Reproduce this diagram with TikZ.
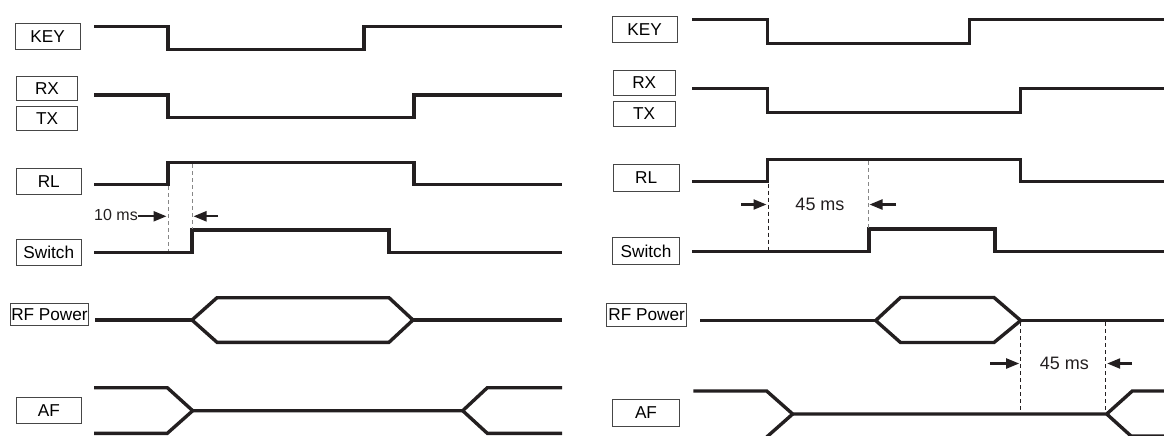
\documentclass[tikz,border=0pt]{standalone}
\usepackage{fontspec}
\setmainfont{Liberation Sans}
\usetikzlibrary{arrows.meta,positioning}
\definecolor{traceblack}{RGB}{35,31,32}
\definecolor{boxgray}{RGB}{70,70,70}
\definecolor{guidegray}{RGB}{135,135,135}
\tikzset{
 sigbox/.style={draw=boxgray,line width=0.5pt,inner sep=0pt,minimum width=32.3pt,minimum height=12.9pt,font=\fontsize{8.6}{9}\selectfont},
 smallbox/.style={sigbox,minimum width=30.4pt,minimum height=11.8pt},
 rfbox/.style={sigbox,minimum width=39pt,minimum height=11pt},
 wave/.style={traceblack,line width=1.7pt,line join=miter},
 guide/.style={line width=0.4pt,dash pattern=on 2pt off 1.5pt},
 dimarrow/.style={traceblack,line width=1.1pt,-{Triangle[length=6.5pt,width=5pt]}},
 dimtext/.style={inner sep=0pt,text=traceblack}
}

\begin{document}
\begin{tikzpicture}[x=0.5pt,y=-0.5pt,line cap=butt]
 \useasboundingbox (0,0) rectangle (1164,435);
 % Left panel labels.
 \node[sigbox] (keyL) at (47.7,36.3) {KEY};
 \node[smallbox] (rxL) at (47,88.3) {RX};
 \node[smallbox] (txL) at (47,118.3) {TX};
 \node[sigbox] (rlL) at (48.8,181.2) {RL};
 \node[sigbox] (swL) at (48.8,252.2) {Switch};
 \node[rfbox] (rfL) at (49.5,314.2) {RF Power};
 \node[sigbox] (afL) at (48.8,410.5) {AF};
 % Left panel traces.
 \draw[wave] (94,26.7) -| (168,49.7) -| (364,26.7) -- (562,26.7);
 \draw[wave] (94,95) -| (168,117.3) -| (414,95) -- (562,95);
 \draw[wave] (94,184.3) -| (168,162.3) -| (414,184.3) -- (562,184.3);
 \draw[wave] (94,252.7) -| (192,230) -| (389,252.7) -- (562,252.7);
 \draw[wave] (95,320) -- (192,320) (413,320) -- (562,320);
 \draw[wave] (192,320) -- (217,297.7) -- (389,297.7) -- (413,320)
  -- (389,342.3) -- (217,342.3) -- cycle;
 \draw[wave] (94,387.7) -- (167.3,387.7) -- (192.7,410.7) -- (462.7,410.7)
  -- (487.3,387.7) -- (562,387.7);
 \draw[wave] (94,433.3) -- (167.3,433.3) -- (192.7,410.7)
  (462.7,410.7) -- (487.3,433.3) -- (562,433.3);
 % Left panel, 10 ms.
 \coordinate (gL1) at (168,186);
 \coordinate (gL2) at (192,164);
 \draw[guide,guidegray] (gL1) -- (168,251);
 \draw[guide,guidegray] (gL2) -- (192,229);
 \node[dimtext,font=\fontsize{8}{9}\selectfont] (msL) at (116,214.6) {10 ms};
 \coordinate (aL1) at (137.5,216.3);
 \coordinate (hL1) at (166.5,216.3);
 \coordinate (aL2) at (218,216.3);
 \coordinate (hL2) at (193.5,216.3);
 \draw[dimarrow] (aL1) -- (hL1);
 \draw[dimarrow] (aL2) -- (hL2);
 % Right panel labels.
 \node[sigbox] (keyR) at (644.7,29.3) {KEY};
 \node[smallbox,minimum width=31pt,minimum height=12.2pt] (rxR) at (644.2,82.8) {RX};
 \node[smallbox,minimum width=31pt,minimum height=12.2pt] (txR) at (644.2,113.8) {TX};
 \node[sigbox,minimum width=32.8pt,minimum height=13.3pt] (rlR) at (646.2,177.7) {RL};
 \node[sigbox,minimum width=33.3pt,minimum height=13.3pt] (swR) at (646,251) {Switch};
 \node[rfbox,minimum width=40pt,minimum height=11.3pt] (rfR) at (646.7,314.7) {RF Power};
 \node[sigbox,minimum width=33.3pt,minimum height=13.3pt] (afR) at (646,412.7) {AF};
 % Right panel traces.
 \draw[wave] (692.3,19.5) -| (767.7,43.3) -| (969.7,19.5) -- (1164,19.5);
 \draw[wave] (692.3,88.7) -| (767.7,112.7) -| (1020.7,88.7) -- (1164,88.7);
 \draw[wave] (692.3,181.7) -| (767.7,159.3) -| (1020.7,181.7) -- (1164,181.7);
 \draw[wave] (692.3,251.5) -| (869,229) -| (995,251.5) -- (1164,251.5);
 \draw[wave] (700,320.5) -- (875.7,320.5) (1020.7,320.5) -- (1164,320.5);
 \draw[wave] (875.7,320.5) -- (900.5,297.5) -- (994,297.5) -- (1020.7,320.5)
  -- (994,342.5) -- (900.5,342.5) -- cycle;
 \draw[wave] (693.3,391) -- (766.7,391) -- (792.7,414) -- (1106.7,414)
  -- (1132.3,391) -- (1164,391);
 \draw[wave] (766.7,437) -- (792.7,414)
  (1106.7,414) -- (1131,436) -- (1164,436);
 % Right panel, first 45 ms.
 \coordinate (gR1) at (768,183.5);
 \coordinate (gR2) at (868.5,161);
 \draw[guide,traceblack] (gR1) -- (768,250);
 \draw[guide,guidegray] (gR2) -- (868.5,228);
 \node[dimtext,font=\fontsize{9}{10}\selectfont] (msR1) at (820,204.3) {45 ms};
 \coordinate (aR1) at (741,204.5);
 \coordinate (hR1) at (766.5,204.5);
 \coordinate (aR2) at (896,204.5);
 \coordinate (hR2) at (869.5,204.5);
 \draw[dimarrow] (aR1) -- (hR1);
 \draw[dimarrow] (aR2) -- (hR2);
 % Right panel, second 45 ms.
 \coordinate (gR3) at (1020.7,322);
 \coordinate (gR4) at (1105.7,322);
 \draw[guide,traceblack] (gR3) -- (1020.7,413);
 \draw[guide,traceblack] (gR4) -- (1105.7,413);
 \node[dimtext,font=\fontsize{9}{10}\selectfont] (msR2) at (1064.4,363.3) {45 ms};
 \coordinate (aR3) at (990,363.5);
 \coordinate (hR3) at (1019.2,363.5);
 \coordinate (aR4) at (1132,363.5);
 \coordinate (hR4) at (1107.2,363.5);
 \draw[dimarrow] (aR3) -- (hR3);
 \draw[dimarrow] (aR4) -- (hR4);
\end{tikzpicture}
\end{document}
